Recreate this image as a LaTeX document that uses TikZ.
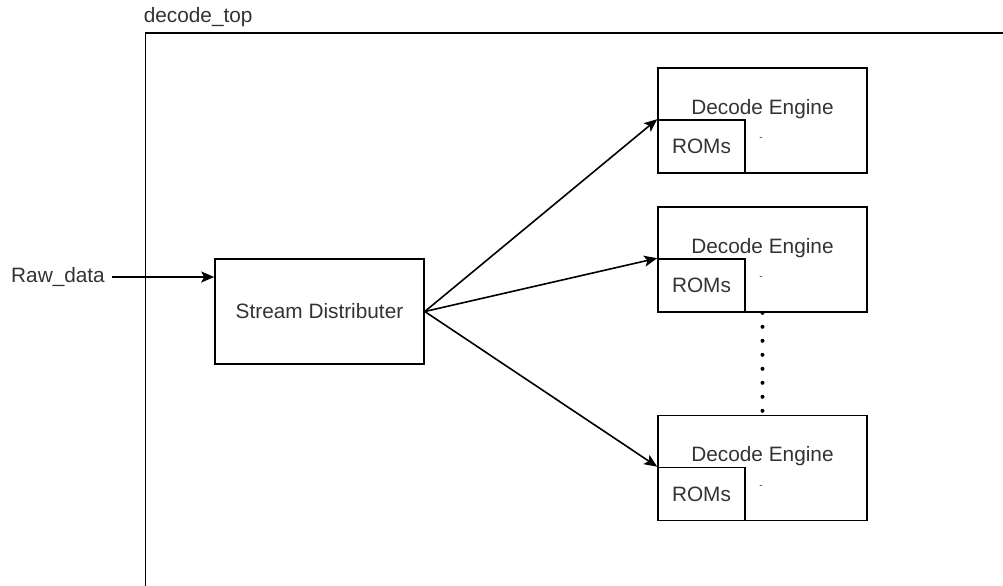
\documentclass[tikz,border=0pt]{standalone}
\usepackage{fontspec}
\setmainfont{Liberation Sans}
\usetikzlibrary{arrows.meta,positioning}

\begin{document}
\begin{tikzpicture}[x=0.5pt,y=-0.5pt,line width=0.8pt,
    font=\fontsize{10.4}{12}\selectfont,text=black!80,
    blk/.style={draw,minimum width=104.5pt,minimum height=52.5pt,inner sep=0pt},
    rom/.style={draw,minimum width=43.5pt,minimum height=26.5pt,inner sep=0pt,anchor=south west},
    arr/.style={-{Stealth[length=6.5pt,width=5.5pt,inset=1.5pt]}}]
    \useasboundingbox (0,0) rectangle (1003,585);
    % outer block
    \begin{scope}
        \clip (0,0) rectangle (1003,585);
        \draw (145.5,33) rectangle (1100,700);
    \end{scope}
    \node[anchor=west,inner sep=0pt] (top) at (143,17) {decode\_top};
    % input side
    \node (raw) at (58,277) {Raw\_data};
    \node[blk] (sd) at (319.5,311.5) {Stream Distributer};
    \draw[arr] (raw.east) -- (sd.west |- raw.east);
    % engines
    \foreach \n/\y in {1/120.5,2/259.5,3/468}{
        \node[blk] (eng\n) at (762.5,\y) {};
        \node at ([yshift=5.75pt]eng\n.center) {Decode Engine};
        \node[rom] (rom\n) at (eng\n.south west) {ROMs};
        \node[font=\fontsize{5}{6}\selectfont,inner sep=0pt] at ([xshift=-0.75pt,yshift=-9.25pt]eng\n.center) {-};
        \draw[arr] (sd.east) -- (rom\n.north west);
    }
    \draw[line width=2pt,line cap=round,dash pattern=on 0pt off 7pt] (eng2.south) -- (eng3.north);
\end{tikzpicture}
\end{document}
